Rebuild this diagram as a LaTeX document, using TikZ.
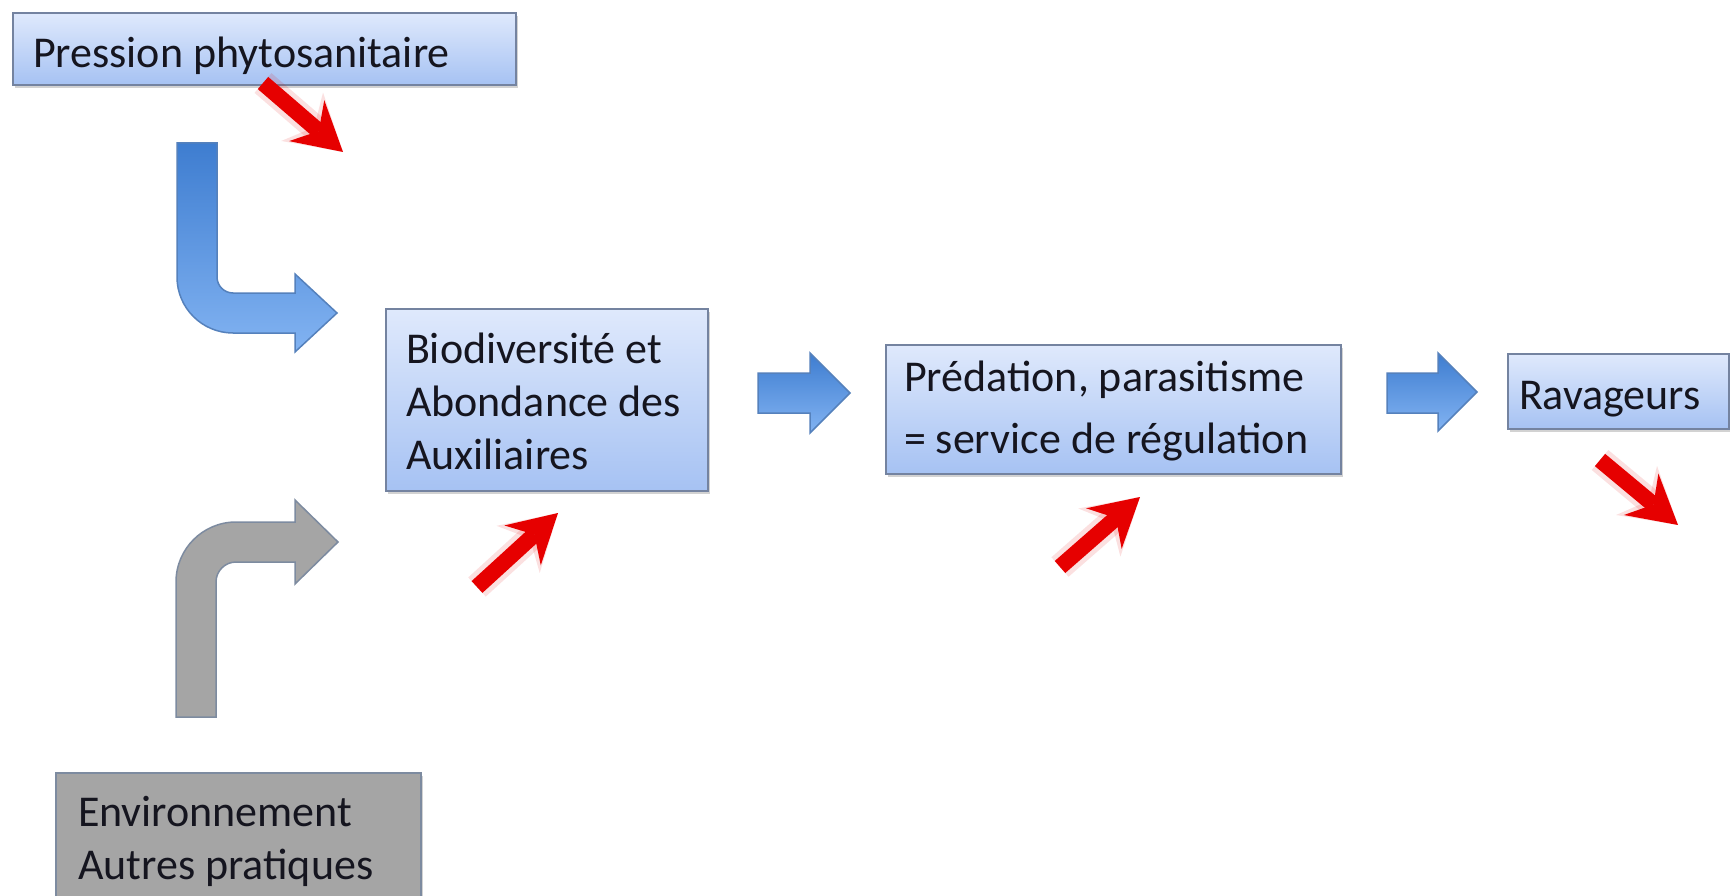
\documentclass[tikz,border=0pt]{standalone}
\usepackage{fontspec}
\setmainfont{Carlito}
\usetikzlibrary{arrows.meta,shadows}
\definecolor{boxtop}{HTML}{DFE9FC}
\definecolor{boxbot}{HTML}{A6C2F3}
\definecolor{boxline}{HTML}{7483A0}
\definecolor{arrtop}{HTML}{3E7DD0}
\definecolor{arrbot}{HTML}{82B3F2}
\definecolor{arrline}{HTML}{5581BC}
\definecolor{greyfill}{HTML}{A5A5A5}
\definecolor{greyline}{HTML}{7D8BA0}
\definecolor{redarr}{HTML}{E60000}
\definecolor{txt}{HTML}{15151F}
\tikzset{
  boxbase/.style={line width=2pt, anchor=north west, inner ysep=0pt, align=flush left,
    text=txt, font=\fontsize{44pt}{53pt}\selectfont,
    drop shadow={shadow xshift=2pt, shadow yshift=-3pt, opacity=0.35}},
  bluebox/.style={boxbase, draw=boxline, top color=boxtop, bottom color=boxbot},
  greybox/.style={boxbase, draw=greyline, fill=greyfill},
  blockarrow/.style={draw=arrline, line width=1.5pt, top color=arrtop, bottom color=arrbot, line join=miter},
  greyarrow/.style={draw=greyline, line width=1.5pt, fill=greyfill, line join=miter},
  redglow/.style={draw=redarr, opacity=0.12, line width=26pt,
    -{Stealth[length=54pt, width=64pt, inset=16pt, line width=0pt]}},
  redarrow/.style={draw=redarr, line width=16pt,
    -{Stealth[length=48pt, width=54pt, inset=16pt, line width=0pt]}}
}
\begin{document}
\begin{tikzpicture}[x=1pt, y=-1pt]
\useasboundingbox (0,0) rectangle (1730,896);
\clip (0,0) rectangle (1730,896);
\fill[white] (0,0) rectangle (1730,896);

% boxes
\node[bluebox, text width=463pt, inner xsep=20pt, text height=55pt, text depth=17pt]
  (pression) at (12,12) {Pression phytosanitaire};
\node[bluebox, text width=282pt, inner xsep=20pt, text height=54pt, text depth=128pt]
  (biodiv) at (385,308) {Biodiversité et\\Abondance des\\Auxiliaires};
\node[bluebox, text width=419pt, inner xsep=18pt, text height=46pt, text depth=83pt,
  font=\fontsize{44pt}{62pt}\selectfont]
  (predation) at (885,344) {Prédation, parasitisme\\= service de régulation};
\node[bluebox, text width=199pt, inner xsep=11pt, text height=55pt, text depth=20pt]
  (ravageurs) at (1507,353) {Ravageurs};
\node[greybox, text width=321pt, inner xsep=22pt, text height=53pt, text depth=105pt]
  (environ) at (55,772) {Environnement\\Autres pratiques};

% bent blue arrow (from pression towards biodiv)
\path[blockarrow] (177,143) -- (177,277) .. controls (177,307.9) and (202.1,333) .. (233,333)
  -- (295,333) -- (295,352) -- (337,313) -- (295,274) -- (295,293) -- (233,293)
  .. controls (224.2,293) and (217,285.8) .. (217,277) -- (217,143) -- cycle;

% bent grey arrow (from environ towards biodiv)
\path[greyarrow] (176,717) -- (176,582) .. controls (176,548.9) and (202.9,522) .. (236,522)
  -- (295,522) -- (295,500) -- (338,542) -- (295,584) -- (295,562) -- (236,562)
  .. controls (225,562) and (216,571) .. (216,582) -- (216,717) -- cycle;

% straight blue arrows
\path[blockarrow] (758,373) -- (810,373) -- (810,353) -- (850,393) -- (810,433) -- (810,413) -- (758,413) -- cycle;
\path[blockarrow] (1387,373) -- (1438,373) -- (1438,353) -- (1477,392) -- (1438,431) -- (1438,413) -- (1387,413) -- cycle;

% red trend arrows
\coordinate (r1a) at (263,83);   \coordinate (r1b) at (343,152);
\coordinate (r2a) at (477,587);  \coordinate (r2b) at (558,513);
\coordinate (r3a) at (1060,567); \coordinate (r3b) at (1140,497);
\coordinate (r4a) at (1600,460); \coordinate (r4b) at (1678,525);
\foreach \a/\b in {r1a/r1b, r2a/r2b, r3a/r3b, r4a/r4b}{
  \draw[redglow] (\a) -- (\b);
  \draw[redarrow] (\a) -- (\b);
}
\end{tikzpicture}
\end{document}
